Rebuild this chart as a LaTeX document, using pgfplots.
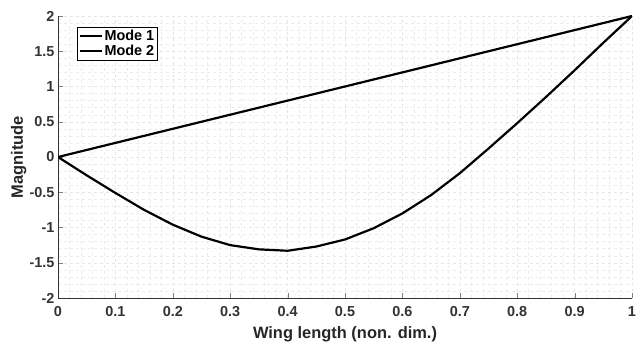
\documentclass[border=0pt]{standalone}
\usepackage{pgfplots}
\pgfplotsset{compat=1.18}
\usepackage{fontspec}
\setmainfont{Liberation Sans}
\begin{document}
\begin{tikzpicture}[x=1bp,y=1bp]
\path[use as bounding box] (0,0) rectangle (636,344);
\begin{axis}[
  at={(58bp,46bp)}, anchor=south west,
  scale only axis, width=574bp, height=282bp,
  xmin=0, xmax=1, ymin=-2, ymax=2,
  axis lines=left, axis line style={-, thick, black!80},
  tick align=inside, major tick length=5bp, minor tick length=0bp,
  xtick={0,0.1,...,1}, ytick={-2,-1.5,...,2},
  minor x tick num=4, minor y tick num=4,
  grid=both,
  major grid style={gray!20, dashed, line width=0.4pt},
  minor grid style={gray!15, dashed, line width=0.4pt},
  /pgf/number format/assume math mode=true,
  tick label style={font=\fontsize{14.5}{16}\selectfont\bfseries, text=black!80},
  xticklabel shift=5bp,
  xticklabel={\pgfmathprintnumber[fixed,precision=1]{\tick}},
  yticklabel={\pgfmathprintnumber[fixed,precision=1]{\tick}},
  xlabel={Wing length (non. dim.)}, ylabel={Magnitude},
  label style={font=\fontsize{16.5}{18}\selectfont\bfseries, text=black!85},
  xlabel style={at={(axis description cs:0.5,-0.0887)}, anchor=north},
  ylabel style={at={(axis description cs:-0.0488,0.5)}, anchor=south, rotate=0},
  legend style={at={(0.033,0.961)}, anchor=north west, draw=black, line width=0.8pt,
    font=\fontsize{14.5}{16}\selectfont\bfseries, inner sep=1.5pt, row sep=0pt,
    nodes={inner sep=1.5pt}},
  legend image code/.code={\draw[black, line width=2.2pt] (0bp,0bp) -- (22bp,0bp);},
  legend cell align=left,
]
\addplot[black, line width=2.2pt] coordinates {(0,0) (1,2)};
\addlegendentry{Mode 1}
\addplot[black, line width=2.2pt] coordinates {
(0,0) (0.05,-0.26) (0.1,-0.51) (0.15,-0.75) (0.2,-0.96) (0.25,-1.13)
(0.3,-1.25) (0.35,-1.31) (0.4,-1.33) (0.45,-1.27) (0.5,-1.17)
(0.55,-1.01) (0.6,-0.80) (0.65,-0.54) (0.7,-0.23) (0.75,0.12)
(0.8,0.48) (0.85,0.85) (0.9,1.23) (0.95,1.62) (1,2.0)};
\addlegendentry{Mode 2}
\end{axis}
\end{tikzpicture}
\end{document}
